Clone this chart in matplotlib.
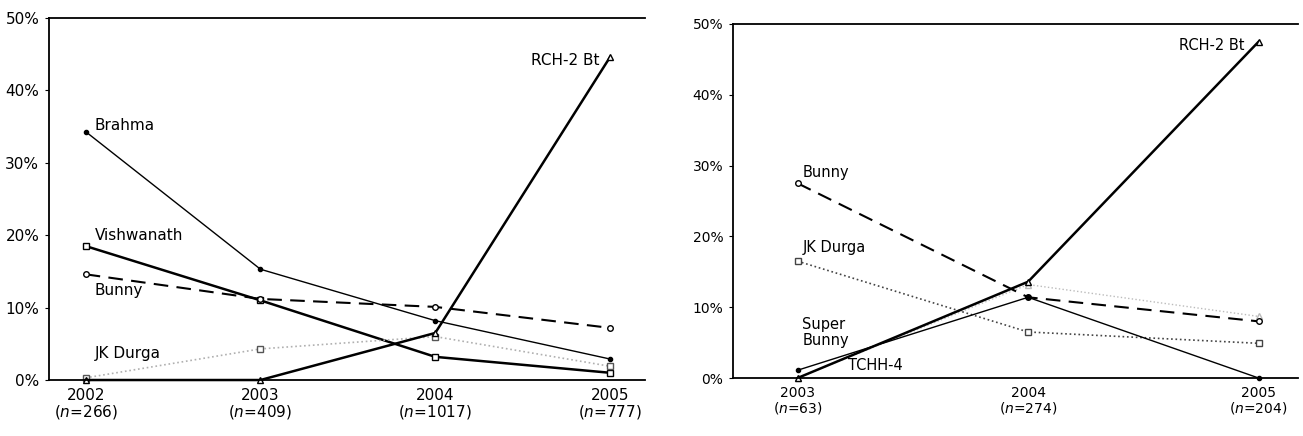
import numpy as np
import matplotlib.pyplot as plt

# left panel: 2002-2005
years_a = ['2002', '2003', '2004', '2005']
n_a = [266, 409, 1017, 777]
brahma_a = [34.3, 15.3, 8.2, 2.9]
vishwanath_a = [18.5, 11.0, 3.2, 1.0]
bunny_a = [14.6, 11.2, 10.1, 7.2]
jkdurga_a = [0.3, 4.3, 6.0, 1.9]
rch2_a = [0.0, 0.0, 6.5, 44.6]

# right panel: 2003-2005
years_b = ['2003', '2004', '2005']
n_b = [63, 274, 204]
bunny_b = [27.5, 11.4, 8.0]
jkdurga_b = [16.5, 6.5, 4.9]
superbunny_b = [1.1, 11.4, 0.0]
tchh4_b = [0.0, 13.2, 8.7]
rch2_b = [0.0, 13.6, 47.5]

fig = plt.figure(figsize=(13.03, 4.36), dpi=100)
ax1 = fig.add_axes([0.0376, 0.1284, 0.4574, 0.8303])
ax2 = fig.add_axes([0.5626, 0.133, 0.4334, 0.812])


def style_axes(ax, years, ns, fs):
    x = np.arange(len(years))
    ax.set_xticks(x)
    ax.set_xticklabels([f'{y}\n($\\it{{n}}$={n})' for y, n in zip(years, ns)],
                       fontsize=fs, linespacing=1.0)
    ax.set_ylim(0, 50)
    ax.set_yticks(range(0, 51, 10))
    ax.set_yticklabels([f'{v}%' for v in range(0, 51, 10)], fontsize=fs)
    ax.spines['right'].set_visible(False)
    for s in ['left', 'bottom', 'top']:
        ax.spines[s].set_linewidth(1.3)
    ax.tick_params(axis='x', length=0, pad=6)
    ax.tick_params(axis='y', length=3, width=0.8, pad=4)


x_a = np.arange(len(years_a))
ax1.plot(x_a, brahma_a, color='black', lw=1.0, marker='o', ms=3, clip_on=False)
ax1.plot(x_a, vishwanath_a, color='black', lw=1.8, marker='s', ms=4, mfc='white', clip_on=False)
ax1.plot(x_a, bunny_a, color='black', lw=1.5, ls=(0, (7, 4)), marker='o', ms=4, mfc='white',
         clip_on=False)
ax1.plot(x_a, jkdurga_a, color='#b0b0b0', lw=1.2, ls=':', marker='s', ms=4, mfc='white',
         mec='#555555', clip_on=False)
ax1.plot(x_a, rch2_a, color='black', lw=1.8, marker='^', ms=4, mfc='white', clip_on=False)
style_axes(ax1, years_a, n_a, 11)
ax1.set_xlim(-0.21, 3.2)

lab = dict(fontsize=11, va='center')
ax1.text(0.05, 35.2, 'Brahma', **lab)
ax1.text(0.05, 20.0, 'Vishwanath', **lab)
ax1.text(0.05, 12.3, 'Bunny', **lab)
ax1.text(0.05, 3.7, 'JK Durga', **lab)
ax1.text(2.94, 44.2, 'RCH-2 Bt', ha='right', **lab)

x_b = np.arange(len(years_b))
ax2.plot(x_b, tchh4_b, color='#bbbbbb', lw=1.0, ls=':', marker='^', ms=4, mfc='white',
         clip_on=False)
ax2.plot(x_b, bunny_b, color='black', lw=1.5, ls=(0, (7, 4)), marker='o', ms=4, mfc='white',
         clip_on=False)
ax2.plot(x_b, jkdurga_b, color='#444444', lw=1.2, ls=':', marker='s', ms=4, mfc='white',
         clip_on=False)
ax2.plot(x_b, superbunny_b, color='black', lw=1.0, marker='o', ms=3, clip_on=False)
ax2.plot(x_b, rch2_b, color='black', lw=1.8, marker='^', ms=4, mfc='white', clip_on=False)
style_axes(ax2, years_b, n_b, 10)
ax2.set_xlim(-0.28, 2.17)

lab2 = dict(fontsize=10.5, va='center')
ax2.text(0.02, 29.0, 'Bunny', **lab2)
ax2.text(0.02, 18.4, 'JK Durga', **lab2)
ax2.text(0.02, 6.4, 'Super\nBunny', linespacing=1.1, **lab2)
ax2.text(0.22, 1.8, 'TCHH-4', **lab2)
ax2.text(1.94, 47.0, 'RCH-2 Bt', ha='right', **lab2)

fig.savefig('out.png', dpi=100)
